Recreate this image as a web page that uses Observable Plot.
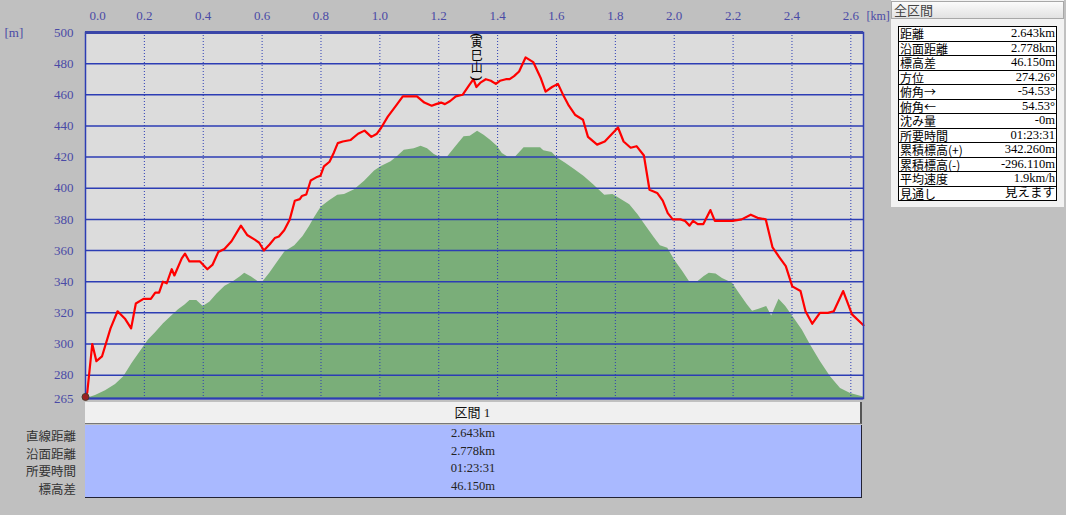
<!DOCTYPE html>
<html><head><meta charset="utf-8">
<script src="https://cdn.jsdelivr.net/npm/d3@7"></script>
<script src="https://cdn.jsdelivr.net/npm/@observablehq/plot@0.6"></script>
<style>
body{margin:0;background:#c0c0c0;width:1066px;height:515px;overflow:hidden;position:relative;font-family:"Liberation Serif","Noto Sans CJK JP",serif;}
#chart{position:absolute;left:0;top:0;}
#panel{position:absolute;left:891px;top:0;width:173px;height:207px;background:#f2f2f2;}
#hdr{position:absolute;left:0;top:1px;width:169px;height:16px;border:1px solid #a8a8a8;background:linear-gradient(#fbfbfb,#e2e2e2);font-family:"Noto Sans CJK JP",sans-serif;font-size:13px;line-height:16px;color:#444;padding-left:2px;box-sizing:content-box;}
#info{position:absolute;left:7px;top:26px;width:159px;border-collapse:collapse;background:#fff;font-size:12.5px;}
#info td{border-top:1px solid #000;border-bottom:1px solid #000;height:13.5px;padding:0 1px;line-height:13px;white-space:nowrap;}
#info td:first-child{border-left:1px solid #000;text-align:left;font-family:"Noto Sans CJK JP",sans-serif;font-size:12px;}
#info td:last-child{border-right:1px solid #000;text-align:right;}
#secHead{position:absolute;left:85px;top:402px;width:775px;height:21px;background:#f0f0f0;border-right:2px solid #555;border-bottom:1px solid #777;text-align:center;font-size:13px;line-height:22px;color:#111;}
#secBody{position:absolute;left:85px;top:425px;width:776px;height:72px;background:#a9b9ff;border-right:1px solid #223;border-bottom:1px solid #223;}
.val{height:17.5px;line-height:17.5px;text-align:center;font-size:12.5px;color:#222;}
#secLabels{position:absolute;left:0;top:427px;width:76px;}
.lab{height:17.5px;line-height:17.5px;text-align:right;font-family:"Noto Sans CJK JP",sans-serif;font-size:12.5px;color:#333;}
</style></head><body>
<div id="chart"></div>
<div id="panel"><div id="hdr"></div><table id="info"></table></div>
<div id="secHead"></div>
<div id="secBody"></div>
<div id="secLabels"></div>
<script>
// Route (GPS track) elevation profile: distance km / elevation m
const routeKm = [0.000,0.006,0.023,0.037,0.056,0.085,0.109,0.135,0.155,0.171,0.197,0.222,0.237,0.250,0.263,0.276,0.293,0.302,0.327,0.338,0.353,0.389,0.414,0.432,0.451,0.472,0.496,0.528,0.549,0.575,0.590,0.606,0.626,0.643,0.657,0.675,0.694,0.711,0.728,0.735,0.750,0.765,0.784,0.798,0.810,0.829,0.844,0.857,0.874,0.901,0.926,0.948,0.971,0.990,1.005,1.027,1.055,1.078,1.100,1.126,1.151,1.176,1.191,1.208,1.221,1.239,1.258,1.281,1.303,1.318,1.328,1.343,1.360,1.377,1.394,1.408,1.428,1.441,1.456,1.473,1.495,1.521,1.546,1.563,1.585,1.605,1.625,1.642,1.664,1.690,1.707,1.738,1.764,1.789,1.809,1.828,1.852,1.872,1.897,1.916,1.942,1.961,1.978,1.995,2.021,2.037,2.052,2.064,2.080,2.099,2.123,2.138,2.164,2.198,2.229,2.260,2.283,2.311,2.334,2.356,2.379,2.401,2.429,2.446,2.469,2.495,2.522,2.542,2.574,2.604,2.643];
const routeElev = [266,269,300,289,292,310,321,316,310,326,329,329,333,333,340,339,348,344,355,358,353,353,348,351,359,361,366,376,370,367,365,360,364,368,369,373,380,392,393,395,396,405,407,408,414,417,423,429,430,431,435,437,433,435,439,446,453,459,459,459,455,453,454,455,454,456,459,460,466,470,465,468,470,469,467,469,470,470,472,475,484,481,471,462,465,467,459,453,447,444,433,428,430,435,439,430,426,427,421,399,397,392,384,380,380,379,376,379,377,377,386,379,379,379,380,383,381,380,362,356,350,337,334,321,313,320,320,321,334,319,312];
// Terrain cross-section
const terrainKm = [0.000,0.011,0.034,0.068,0.102,0.130,0.158,0.186,0.214,0.237,0.265,0.293,0.316,0.338,0.355,0.378,0.400,0.423,0.446,0.474,0.502,0.525,0.541,0.564,0.587,0.603,0.626,0.654,0.677,0.711,0.739,0.761,0.778,0.801,0.829,0.857,0.880,0.914,0.948,0.982,1.005,1.038,1.061,1.083,1.117,1.140,1.162,1.185,1.202,1.230,1.258,1.286,1.307,1.332,1.354,1.377,1.399,1.416,1.435,1.461,1.490,1.512,1.546,1.557,1.585,1.602,1.631,1.659,1.693,1.726,1.764,1.792,1.820,1.849,1.877,1.905,1.933,1.953,1.978,2.001,2.029,2.052,2.080,2.102,2.119,2.142,2.164,2.198,2.221,2.249,2.266,2.288,2.314,2.331,2.356,2.379,2.407,2.435,2.463,2.497,2.531,2.565,2.599,2.643];
const terrainElev = [265,265.5,267,270,274,279,287.5,295,302.5,307,313,318,322,325,328,328,324,327,332,337,340,343,345.5,343,340,340,345.5,353,359,363,369,375.5,381,388,392,395.5,396,399,404.5,411,414,417,420.6,424.4,425.3,427,425.3,421.6,420,420,426.6,433,433.4,436.6,434,430.6,427,422.3,420,420,426,426,426,424,423,419.5,416,412.4,407.7,402.3,395.5,396,392.7,389.4,383,375.5,368,363,361.5,354,346.5,340,340,343.3,345.5,345,342,339,332.6,325,321,322.3,324,318,328.7,324,316.5,309,299.3,288.6,279,271.4,268.2,266];
const xTicks = [0.0,0.2,0.4,0.6,0.8,1.0,1.2,1.4,1.6,1.8,2.0,2.2,2.4,2.6];
const yTicks = [265,280,300,320,340,360,380,400,420,440,460,480,500];
const xDomain = [0, 2.643];
const peakNames = ["寅巳山"];
const peakKm = [1.329];
const xUnit = "[km]";
const yUnit = "[m]";
const panelTitle = "全区間";
const infoLabels = ["距離","沿面距離","標高差","方位","俯角→","俯角←","沈み量","所要時間","累積標高(+)","累積標高(-)","平均速度","見通し"];
const infoValues = ["2.643km","2.778km","46.150m","274.26°","-54.53°","54.53°","-0m","01:23:31","342.260m","-296.110m","1.9km/h","見えます"];
const sectionTitle = "区間 1";
const sectionLabels = ["直線距離","沿面距離","所要時間","標高差"];
const sectionValues = ["2.643km","2.778km","01:23:31","46.150m"];

const route = routeKm.map((d, i) => ({d, e: routeElev[i]}));
const terrain = terrainKm.map((d, i) => ({d, e: terrainElev[i]}));
const peaks = peakNames.map((n, i) => ({d: peakKm[i], label: n.split("").join("\n")}));
const yMin = yTicks[0], yMax = yTicks[yTicks.length - 1];
const blue = "#2c3db4";
const tickColor = "#4a4aa6";
const cjk = "'Noto Sans CJK JP', sans-serif";

const chart = Plot.plot({
  width: 900, height: 412,
  marginTop: 32, marginLeft: 85, marginRight: 37, marginBottom: 14,
  style: {background: "transparent", fontFamily: "'Liberation Serif', serif", fontSize: "13px", color: tickColor},
  x: {domain: xDomain, axis: null, label: null},
  y: {domain: [yMin, yMax], axis: null, label: null},
  marks: [
    Plot.frame({fill: "#dcdcdc", stroke: null}),
    Plot.areaY(terrain, {x: "d", y1: yMin, y2: "e", fill: "#7aae79", curve: "linear"}),
    Plot.ruleY(yTicks.filter(v => v > yMin && v < yMax), {stroke: blue, strokeWidth: 1.5}),
    Plot.ruleX(xTicks.filter(v => v > 0), {stroke: blue, strokeWidth: 1, strokeDasharray: "1,2"}),
    Plot.line(route, {x: "d", y: "e", stroke: "#ff0000", strokeWidth: 2.2, strokeLinejoin: "round"}),
    Plot.frame({stroke: blue, strokeWidth: 1.5}),
    Plot.ruleY([yMax], {stroke: "#3a46a8", strokeWidth: 3}),
    Plot.ruleY([yMin], {stroke: blue, strokeWidth: 2}),
    Plot.axisX(xTicks.slice(0, 1), {anchor: "top", label: null, tickSize: 0, tickPadding: 13, textAnchor: "start", dx: 4, tickFormat: d3.format(".1f"), fill: tickColor}),
    Plot.axisX(xTicks.slice(1), {anchor: "top", label: null, tickSize: 0, tickPadding: 13, tickFormat: d3.format(".1f"), fill: tickColor}),
    Plot.axisY(yTicks, {anchor: "left", label: null, tickSize: 0, tickPadding: 12, fill: tickColor}),
    Plot.text([yUnit], {frameAnchor: "top-left", text: d => d, textAnchor: "start", lineAnchor: "middle", dx: -81, dy: 0, fill: tickColor}),
    Plot.text([xUnit], {frameAnchor: "top-right", text: d => d, textAnchor: "start", lineAnchor: "middle", dx: 3, dy: -16, fontSize: 12, fill: tickColor}),
    // vertical peak name with rotated parentheses
    Plot.text(peaks, {x: "d", frameAnchor: "top", text: "label", lineAnchor: "top", dy: 6, fontSize: 12, lineHeight: 1.03, fill: "#000", fontFamily: cjk}),
    Plot.text(peaks, {x: "d", frameAnchor: "top", text: () => "(", rotate: 90, lineAnchor: "middle", dy: 3, fontSize: 13, fill: "#000", stroke: "#000", strokeWidth: 0.3}),
    Plot.text(peaks, {x: "d", frameAnchor: "top", text: () => ")", rotate: 90, lineAnchor: "middle", dy: 46, fontSize: 13, fill: "#000", stroke: "#000", strokeWidth: 0.3}),
    Plot.dot(route.slice(0, 1), {x: "d", y: "e", r: 3.5, fill: "#9a2020", stroke: "#4a3a2a", strokeWidth: 1})
  ]
});
document.getElementById("chart").appendChild(chart);

document.getElementById("hdr").textContent = panelTitle;
const info = d3.select("#info");
infoLabels.forEach((l, i) => {
  const tr = info.append("tr");
  tr.append("td").text(l);
  tr.append("td").text(infoValues[i]);
});
document.getElementById("secHead").textContent = sectionTitle;
d3.select("#secBody").selectAll("div").data(sectionValues).join("div").attr("class", "val").text(d => d);
d3.select("#secLabels").selectAll("div").data(sectionLabels).join("div").attr("class", "lab").text(d => d);
</script>
</body></html>
